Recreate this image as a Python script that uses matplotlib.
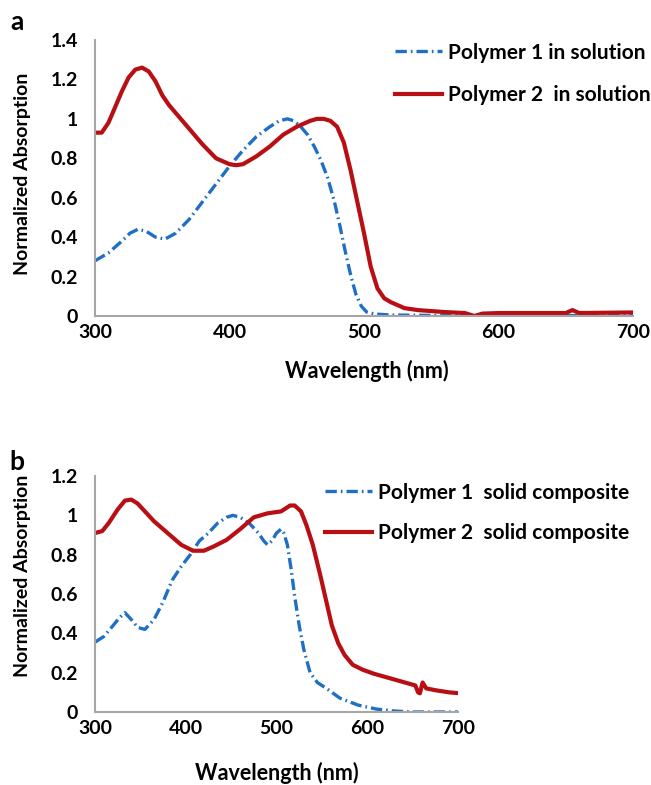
import matplotlib
matplotlib.use("Agg")
import matplotlib.pyplot as plt

# ---------------- data ----------------
wl_p1a = [300,310,320,326,332,338,345,352,360,370,380,390,400,410,420,430,437,443,448,453,458,463,468,473,478,482,486,490,494,498,502,508,520,550,600,650,700]
ab_p1a = [0.28,0.32,0.38,0.42,0.44,0.43,0.40,0.39,0.42,0.49,0.58,0.67,0.76,0.84,0.91,0.96,0.99,1.0,0.99,0.96,0.92,0.86,0.79,0.70,0.58,0.46,0.33,0.21,0.11,0.05,0.02,0.01,0.005,0.003,0.002,0.002,0.002]

wl_p2a = [300,305,310,315,320,325,330,335,340,345,350,355,360,365,370,380,390,400,405,410,415,420,430,440,450,460,465,470,475,480,485,490,495,500,505,510,515,520,530,540,560,575,582,588,600,650,655,660,700]
ab_p2a = [0.93,0.93,0.98,1.06,1.14,1.21,1.25,1.26,1.24,1.19,1.12,1.07,1.03,0.99,0.95,0.87,0.80,0.77,0.765,0.77,0.79,0.81,0.86,0.92,0.96,0.99,1.0,1.0,0.99,0.96,0.88,0.74,0.58,0.42,0.25,0.14,0.09,0.07,0.04,0.03,0.02,0.015,0.0,0.012,0.015,0.015,0.03,0.015,0.018]

wl_p1b = [300,310,320,327,333,340,347,355,365,375,385,395,405,415,425,435,445,452,460,470,480,486,490,495,500,505,508,512,516,520,525,530,537,545,555,570,590,610,630,650,700]
ab_p1b = [0.355,0.385,0.44,0.48,0.505,0.47,0.43,0.42,0.47,0.56,0.67,0.74,0.80,0.87,0.91,0.96,0.99,1.0,0.99,0.96,0.91,0.87,0.85,0.87,0.91,0.93,0.91,0.85,0.73,0.59,0.44,0.32,0.20,0.15,0.12,0.07,0.035,0.015,0.005,0.0,0.0]

wl_p2b = [300,308,315,325,333,340,347,355,365,380,395,408,420,430,445,460,475,490,505,515,520,527,533,540,548,555,561,568,575,584,595,607,630,653,656,658,661,665,676,690,700]
ab_p2b = [0.91,0.92,0.96,1.03,1.075,1.08,1.06,1.02,0.97,0.91,0.85,0.82,0.82,0.84,0.875,0.93,0.99,1.01,1.02,1.05,1.05,1.02,0.95,0.85,0.70,0.56,0.44,0.35,0.29,0.24,0.215,0.195,0.165,0.135,0.10,0.095,0.15,0.12,0.11,0.10,0.096]

labels_a = ["Polymer 1 in solution", "Polymer 2  in solution"]
labels_b = ["Polymer 1  solid composite", "Polymer 2  solid composite"]
xticks = [300, 400, 500, 600, 700]
yticks_a = [0, 0.2, 0.4, 0.6, 0.8, 1, 1.2, 1.4]
yticks_b = [0, 0.2, 0.4, 0.6, 0.8, 1, 1.2]

# ---------------- style ----------------
plt.rcParams['font.family'] = ['Lato', 'DejaVu Sans']
plt.rcParams['font.weight'] = 'bold'
BLUE = '#1f6fc4'
RED = '#b80f14'
SPINE = '#a6a6a6'
FS_TICK = 14
FS_XLAB = 15.5
FS_YLAB = 14
FS_LEG = 15

W, H = 651, 785
fig = plt.figure(figsize=(W/100, H/100), dpi=100)

def fmt(v):
    return ('%g' % v)

def style_axes(ax, yticks, ymax):
    ax.set_xlim(300, 700)
    ax.set_ylim(0, ymax)
    ax.set_xticks(xticks)
    ax.set_yticks(yticks)
    ax.set_yticklabels([fmt(v) for v in yticks])
    for s in ['top', 'right']:
        ax.spines[s].set_visible(False)
    for s in ['left', 'bottom']:
        ax.spines[s].set_color(SPINE)
        ax.spines[s].set_linewidth(1.5)
    ax.tick_params(axis='x', length=0, labelsize=FS_TICK, pad=6)
    ax.tick_params(axis='y', length=0, labelsize=FS_TICK, pad=12)
    for t in ax.get_xticklabels() + ax.get_yticklabels():
        t.set_fontweight('bold')

dashdot = (0, (3.4, 1.2, 0.5, 1.2))

def add_legend(ax, x, yc, spacing):
    leg = ax.legend(loc='center left', bbox_to_anchor=(x/W, 1-yc/H), bbox_transform=fig.transFigure,
                    frameon=False, fontsize=FS_LEG, handlelength=2.25, handletextpad=0.3,
                    labelspacing=spacing, borderpad=0, borderaxespad=0)
    for t in leg.get_texts():
        t.set_fontweight('bold')

# Panel a
axa = fig.add_axes([95/W, 1-316/H, 538/W, 276/H])
axa.plot(wl_p1a, ab_p1a, color=BLUE, lw=2.4, linestyle=dashdot, label=labels_a[0])
axa.plot(wl_p2a, ab_p2a, color=RED, lw=3, label=labels_a[1])
style_axes(axa, yticks_a, 1.4)
axa.set_xlabel('Wavelength (nm)', fontsize=FS_XLAB, fontweight='bold')
axa.set_ylabel('Normalized Absorption', fontsize=FS_YLAB, fontweight='bold')
axa.xaxis.set_label_coords((367-95)/538, (316-360)/276)
axa.yaxis.set_label_coords((31-95)/538, (316-173.5)/276)
add_legend(axa, 395, 74, 1.1)

# Panel b
axb = fig.add_axes([95/W, 1-712/H, 363/W, 236/H])
axb.plot(wl_p1b, ab_p1b, color=BLUE, lw=2.4, linestyle=dashdot, label=labels_b[0])
axb.plot(wl_p2b, ab_p2b, color=RED, lw=3, label=labels_b[1])
style_axes(axb, yticks_b, 1.2)
axb.set_xlabel('Wavelength (nm)', fontsize=FS_XLAB, fontweight='bold')
axb.set_ylabel('Normalized Absorption', fontsize=FS_YLAB, fontweight='bold')
axb.xaxis.set_label_coords((277-95)/363, (712-762)/236)
axb.yaxis.set_label_coords((31-95)/363, (712-576)/236)
add_legend(axb, 325, 513, 1.0)

fig.text(17/W, 1-22/H, 'a', fontsize=19, fontweight='bold', ha='center', va='center')
fig.text(17/W, 1-462/H, 'b', fontsize=19, fontweight='bold', ha='center', va='center')

fig.savefig('out.png', dpi=100)
